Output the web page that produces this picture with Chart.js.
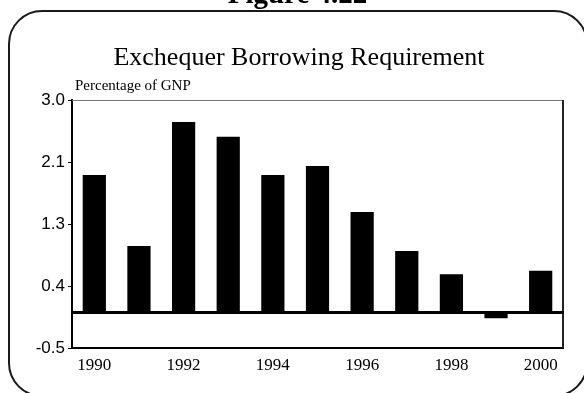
<!DOCTYPE html>
<html>
<head>
<meta charset="utf-8">
<script src="https://cdn.jsdelivr.net/npm/chart.js@4/dist/chart.umd.min.js"></script>
<style>
  html, body { margin: 0; padding: 0; background: #fff; }
  body { width: 584px; height: 393px; overflow: hidden; }
  canvas { display: block; }
</style>
</head>
<body>
<canvas id="borrowChart" width="584" height="393"></canvas>
<script>
// Exchequer borrowing requirement, % of GNP
const years = ['1990', '1991', '1992', '1993', '1994', '1995', '1996', '1997', '1998', '1999', '2000'];
const borrowing = [1.94, 0.94, 2.69, 2.48, 1.94, 2.07, 1.42, 0.87, 0.54, -0.08, 0.59];
const yMin = -0.5;
const yMax = 3.0;
const yStep = 0.875; // gives the 3.0 / 2.1 / 1.3 / 0.4 / -0.5 labels

const SERIF = '"Liberation Serif", "Times New Roman", serif';
const SANS = '"Liberation Sans", Arial, sans-serif';

// frame, figure number and titles
const frameText = {
    id: 'frameText',
    beforeDraw(chart) {
        const ctx = chart.ctx;
        ctx.save();
        ctx.fillStyle = '#fff';
        ctx.fillRect(0, 0, chart.width, chart.height);

        ctx.strokeStyle = '#1a1a1a';
        ctx.lineWidth = 2;
        ctx.beginPath();
        ctx.roundRect(9, 11, 578, 385, 33);
        ctx.stroke();

        ctx.fillStyle = '#000';
        ctx.textAlign = 'center';
        ctx.textBaseline = 'alphabetic';
        ctx.font = 'bold 29px ' + SERIF;
        ctx.fillText('Figure 4.22', 297.5, 3);

        ctx.font = '26px ' + SERIF;
        ctx.fillText('Exchequer Borrowing Requirement', 299, 65);

        ctx.textAlign = 'left';
        ctx.font = '15px ' + SERIF;
        ctx.fillText('Percentage of GNP', 75, 90);
        ctx.restore();
    },
    afterDraw(chart) {
        const ctx = chart.ctx;
        const area = chart.chartArea;
        const y0 = chart.scales.y.getPixelForValue(0);
        ctx.save();
        // thin top edge
        ctx.strokeStyle = '#777';
        ctx.lineWidth = 1;
        ctx.beginPath();
        ctx.moveTo(area.left, area.top + 0.5);
        ctx.lineTo(area.right, area.top + 0.5);
        ctx.stroke();
        // right edge
        ctx.strokeStyle = '#222';
        ctx.lineWidth = 2;
        ctx.beginPath();
        ctx.moveTo(area.right, area.top);
        ctx.lineTo(area.right, area.bottom);
        ctx.stroke();
        // heavy zero line
        ctx.strokeStyle = '#000';
        ctx.lineWidth = 3;
        ctx.beginPath();
        ctx.moveTo(area.left, y0);
        ctx.lineTo(area.right + 1, y0);
        ctx.stroke();
        ctx.restore();
    }
};

new Chart(document.getElementById('borrowChart'), {
    type: 'bar',
    data: {
        labels: years,
        datasets: [{
            data: borrowing,
            backgroundColor: '#000',
            borderWidth: 0,
            barPercentage: 0.52,
            categoryPercentage: 1.0
        }]
    },
    options: {
        responsive: false,
        animation: false,
        layout: { padding: { top: 100, right: 21, left: 0, bottom: 0 } },
        plugins: {
            legend: { display: false },
            tooltip: { enabled: false }
        },
        scales: {
            x: {
                offset: true,
                grid: { display: true, drawOnChartArea: false, drawTicks: false },
                border: { display: true, color: '#000', width: 2 },
                ticks: {
                    autoSkip: false,
                    maxRotation: 0,
                    padding: 7,
                    color: '#000',
                    font: { family: SERIF, size: 17 },
                    callback: (v, i) => (i % 2 === 0 ? years[i] : '')
                },
                afterFit(scale) { scale.height = 45; }
            },
            y: {
                min: yMin,
                max: yMax,
                grid: { drawOnChartArea: false, drawTicks: true, tickLength: 4, color: '#000' },
                border: { display: true, color: '#000', width: 2 },
                ticks: {
                    stepSize: yStep,
                    padding: 3,
                    color: '#000',
                    font: { family: SANS, size: 17 },
                    callback: v => v.toFixed(1)
                },
                afterFit(scale) { scale.width = 72; }
            }
        }
    },
    plugins: [frameText]
});
</script>
</body>
</html>
